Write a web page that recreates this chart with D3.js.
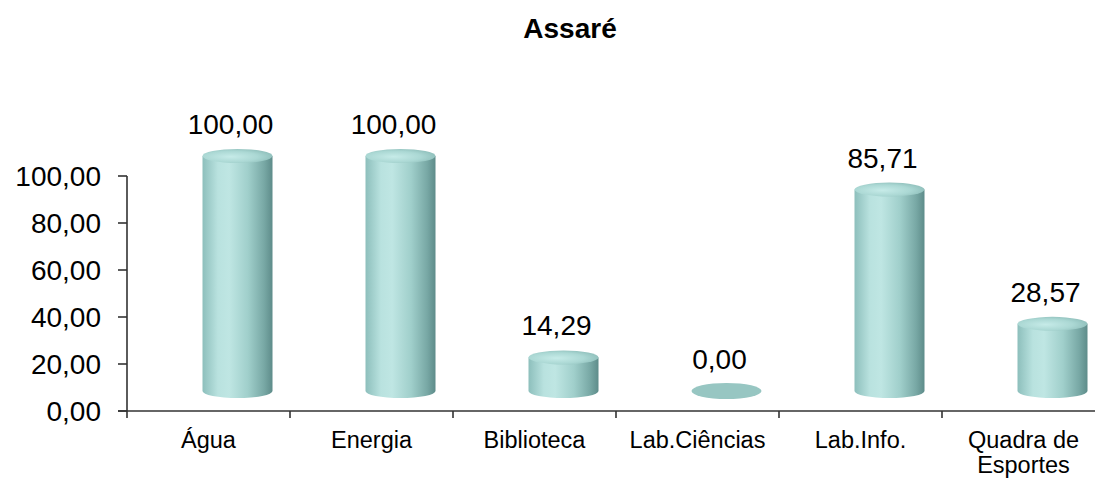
<html>
<head>
  <script src="https://d3js.org/d3.v7.min.js"></script>
  <style>
    body { margin: 0; background: #fff; }
    text { font-family: Arial, "Liberation Sans", sans-serif; fill: #000; }
    .axis-line { stroke: #333; stroke-width: 1.6px; }
  </style>
</head>
<body>
  <svg id="chart" width="1095" height="478"></svg>
  <script>
    // data
    const categories = ["Água", "Energia", "Biblioteca", "Lab.Ciências", "Lab.Info.", "Quadra de Esportes"];
    const values = [100.00, 100.00, 14.29, 0.00, 85.71, 28.57];
    const yTicks = [0, 20, 40, 60, 80, 100];
    const chartTitle = "Assaré";

    const svg = d3.select("#chart");
    const fmt = d => d.toFixed(2).replace(".", ",");

    // scales
    const xScale = d3.scaleBand().domain(categories).range([127, 127 + 6 * 163]).padding(0);
    const yScale = d3.scaleLinear().domain([0, 100]).range([411, 176]);

    // 3d depth shift of the cylinders
    const dx = 29, dy = -20;
    const rx = 35, ry = 7;

    // gradients
    const defs = svg.append("defs");
    const bodyGrad = defs.append("linearGradient").attr("id", "bodyGrad")
        .attr("x1", "0%").attr("x2", "100%").attr("y1", "0%").attr("y2", "0%");
    [["0%", "#8dbfbc"], ["22%", "#b9e2df"], ["38%", "#bfe6e3"], ["65%", "#a0cfcb"],
     ["88%", "#78a8a5"], ["100%", "#5e8c8a"]].forEach(s =>
        bodyGrad.append("stop").attr("offset", s[0]).attr("stop-color", s[1]));
    const topGrad = defs.append("radialGradient").attr("id", "topGrad")
        .attr("cx", "40%").attr("cy", "55%").attr("r", "65%");
    [["0%", "#c6ebe8"], ["60%", "#abd8d4"], ["100%", "#8dbdb9"]].forEach(s =>
        topGrad.append("stop").attr("offset", s[0]).attr("stop-color", s[1]));

    // title
    svg.append("text")
        .attr("x", 570).attr("y", 38)
        .attr("text-anchor", "middle")
        .style("font-size", "28px").style("font-weight", "bold")
        .text(chartTitle);

    // y axis
    const yAxis = svg.append("g");
    yAxis.append("line").attr("class", "axis-line")
        .attr("x1", 127).attr("x2", 127)
        .attr("y1", yScale(100)).attr("y2", yScale(0));
    yAxis.selectAll("line.tick").data(yTicks).join("line")
        .attr("class", "tick axis-line")
        .attr("x1", 118).attr("x2", 127)
        .attr("y1", d => yScale(d)).attr("y2", d => yScale(d));
    yAxis.selectAll("text").data(yTicks).join("text")
        .attr("x", 101).attr("y", d => yScale(d))
        .attr("text-anchor", "end").attr("dy", "0.35em")
        .style("font-size", "28px")
        .text(fmt);

    // x axis
    const xAxis = svg.append("g");
    xAxis.append("line").attr("class", "axis-line")
        .attr("x1", 118).attr("x2", 1095)
        .attr("y1", yScale(0)).attr("y2", yScale(0));
    const bounds = d3.range(categories.length + 1);
    xAxis.selectAll("line.tick").data(bounds).join("line")
        .attr("class", "tick axis-line")
        .attr("x1", i => xScale.range()[0] + i * xScale.step())
        .attr("x2", i => xScale.range()[0] + i * xScale.step())
        .attr("y1", yScale(0)).attr("y2", yScale(0) + 7);
    categories.forEach(c => {
        const words = c === "Quadra de Esportes" ? ["Quadra de", "Esportes"] : [c];
        const t = xAxis.append("text")
            .attr("x", xScale(c) + xScale.bandwidth() / 2)
            .attr("y", 448)
            .attr("text-anchor", "middle")
            .style("font-size", "23.5px");
        words.forEach((w, i) => {
            t.append("tspan")
                .attr("x", xScale(c) + xScale.bandwidth() / 2)
                .attr("dy", i === 0 ? 0 : 25)
                .text(w);
        });
    });

    // cylinders
    const bars = svg.append("g");
    categories.forEach((c, i) => {
        const v = values[i];
        const cx = xScale(c) + xScale.bandwidth() / 2 + dx;
        const yb = yScale(0) + dy;
        const yt = yScale(v) + dy;
        if (v > 0) {
            bars.append("path")
                .attr("d", `M${cx - rx},${yt} L${cx - rx},${yb} A${rx},${ry} 0 0 0 ${cx + rx},${yb} L${cx + rx},${yt} Z`)
                .attr("fill", "url(#bodyGrad)");
            bars.append("ellipse")
                .attr("cx", cx).attr("cy", yt)
                .attr("rx", rx).attr("ry", ry)
                .attr("fill", "url(#topGrad)");
        } else {
            bars.append("ellipse")
                .attr("cx", cx).attr("cy", yb)
                .attr("rx", rx).attr("ry", ry + 1)
                .attr("fill", "#97c6c2");
        }
        // value label
        svg.append("text")
            .attr("x", xScale(c) + xScale.bandwidth() / 2 + 22)
            .attr("y", yScale(v) - 42)
            .attr("text-anchor", "middle")
            .style("font-size", "28px")
            .text(fmt(v));
    });
  </script>
</body>
</html>
